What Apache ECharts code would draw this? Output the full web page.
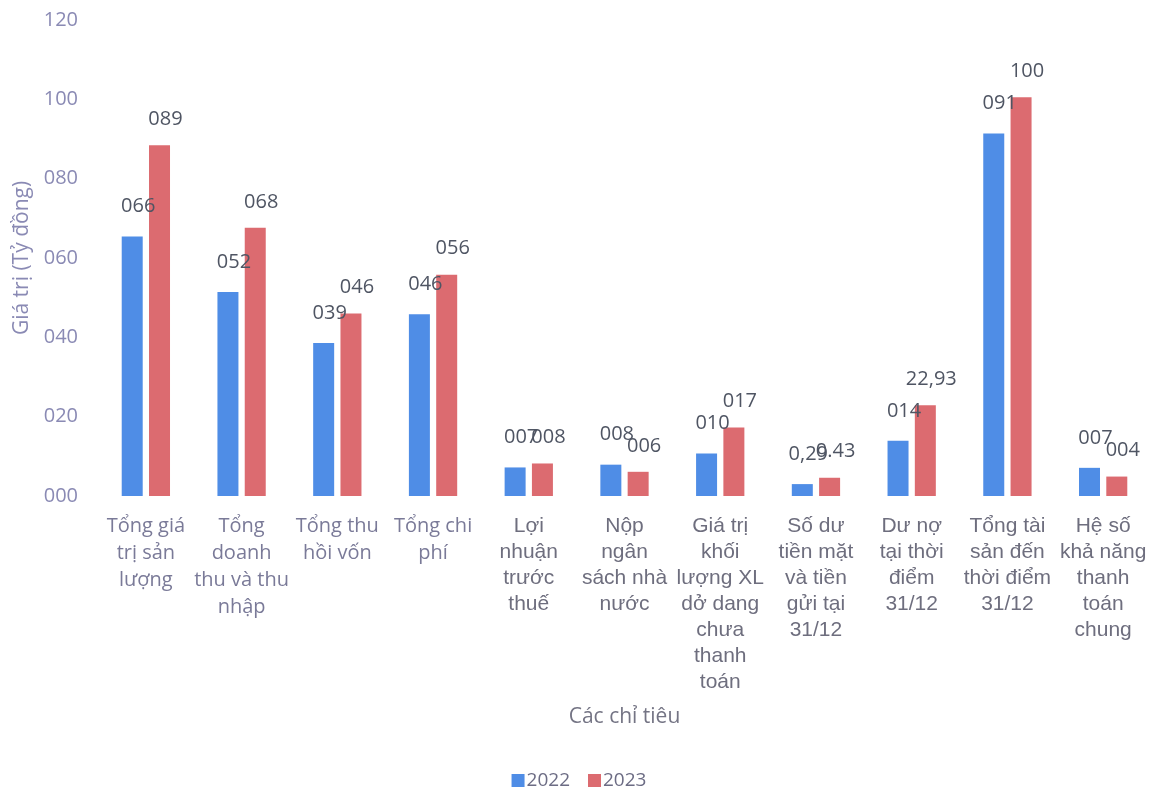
<!DOCTYPE html>
<html>
<head>
    <meta charset="utf-8">
    <script src="https://cdn.jsdelivr.net/npm/echarts@6/dist/echarts.min.js"></script>
    <style>
        html, body { margin: 0; padding: 0; background: #fff; }
        #main { width: 1158px; height: 792px; }
    </style>
</head>
<body>
<div id="main"></div>
<script type="text/javascript">
    // các chỉ tiêu (trục X)
    var categories = [
        'Tổng giá\ntrị sản\nlượng',
        'Tổng\ndoanh\nthu và thu\nnhập',
        'Tổng thu\nhồi vốn',
        'Tổng chi\nphí',
        'Lợi\nnhuận\ntrước\nthuế',
        'Nộp\nngân\nsách nhà\nnước',
        'Giá trị\nkhối\nlượng XL\ndở dang\nchưa\nthanh\ntoán',
        'Số dư\ntiền mặt\nvà tiền\ngửi tại\n31/12',
        'Dư nợ\ntại thời\nđiểm\n31/12',
        'Tổng tài\nsản đến\nthời điểm\n31/12',
        'Hệ số\nkhả năng\nthanh\ntoán\nchung'
    ];
    var seriesNames = ['2022', '2023'];
    var values2022 = [65.4, 51.4, 38.6, 45.8, 7.2, 7.9, 10.7, 3.0, 13.9, 91.4, 7.1];
    var values2023 = [88.4, 67.6, 46.0, 55.8, 8.2, 6.1, 17.3, 4.6, 22.9, 100.5, 4.9];
    // nhãn dữ liệu như trên hình gốc
    var labels2022 = ['066', '052', '039', '046', '007', '008', '010', '0,29', '014', '091', '007'];
    var labels2023 = ['089', '068', '046', '056', '008', '006', '017', '0.43', '22,93', '100', '004'];
    var yTickLabels = ['000', '020', '040', '060', '080', '100', '120'];

    var myChart = echarts.init(document.getElementById('main'));

    function labelOf(arr) {
        return function (p) { return arr[p.dataIndex]; };
    }

    var option = {
        animation: false,
        textStyle: { fontFamily: '"Open Sans", "Liberation Sans", sans-serif' },
        grid: { left: 98, right: 7, top: 20, bottom: 296, containLabel: false, outerBoundsMode: 'none' },
        legend: {
            data: seriesNames,
            bottom: -3,
            left: 'center',
            itemWidth: 13,
            itemHeight: 13,
            itemGap: 18,
            icon: 'rect',
            textStyle: { color: '#6c6c84', fontSize: 19, padding: [0, 0, 0, -3] }
        },
        xAxis: {
            type: 'category',
            data: categories,
            name: 'Các chỉ tiêu',
            nameLocation: 'middle',
            nameGap: 211,
            nameTextStyle: { color: '#747484', fontSize: 21 },
            axisLine: { show: false },
            axisTick: { show: false },
            axisLabel: {
                interval: 0,
                margin: 17,
                formatter: function (v, i) {
                    var k = i < 4 ? 'a' : 'b';
                    return v.split('\n').map(function (s) { return '{' + k + '|' + s + '}'; }).join('\n');
                },
                rich: {
                    a: { color: '#7a7a98', fontSize: 20, lineHeight: 27, fontFamily: '"Open Sans", sans-serif' },
                    b: { color: '#6e6e7e', fontSize: 21, lineHeight: 26, fontFamily: '"Liberation Sans", Arial, sans-serif' }
                }
            }
        },
        yAxis: {
            type: 'value',
            min: 0,
            max: 120,
            interval: 20,
            name: 'Giá trị (Tỷ đồng)',
            nameLocation: 'middle',
            nameGap: 64,
            nameTextStyle: { color: '#8a8ab4', fontSize: 21 },
            splitLine: { show: false },
            axisLine: { show: false },
            axisTick: { show: false },
            axisLabel: {
                color: '#8a8ab4',
                fontSize: 20,
                margin: 20,
                formatter: function (v) { return yTickLabels[Math.round(v / 20)]; }
            }
        },
        series: [
            {
                name: seriesNames[0],
                type: 'bar',
                data: values2022,
                barWidth: 21,
                barGap: '30%',
                itemStyle: { color: '#4f8de6' },
                label: {
                    show: true,
                    position: 'top',
                    distance: 8,
                    offset: [6, -12],
                    color: '#4f5563',
                    fontSize: 20,
                    formatter: labelOf(labels2022)
                }
            },
            {
                name: seriesNames[1],
                type: 'bar',
                data: values2023,
                barWidth: 21,
                itemStyle: { color: '#dc6b70' },
                label: {
                    show: true,
                    position: 'top',
                    distance: 8,
                    offset: [6, -8],
                    color: '#4f5563',
                    fontSize: 20,
                    formatter: labelOf(labels2023)
                }
            }
        ]
    };
    myChart.setOption(option);
</script>
</body>
</html>
